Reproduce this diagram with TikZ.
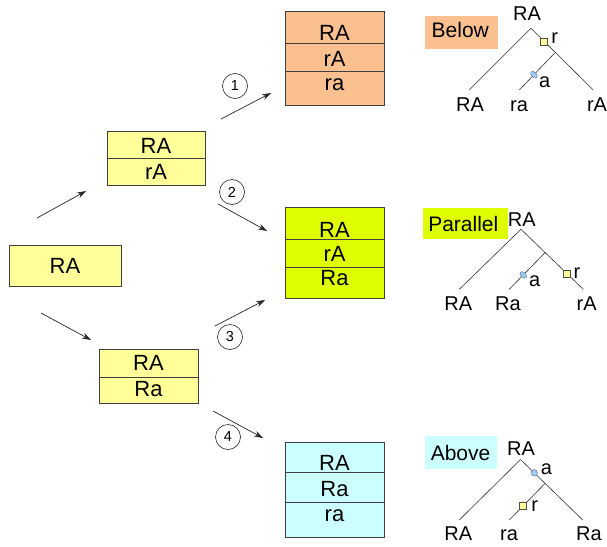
\documentclass[tikz,border=0pt]{standalone}
\usepackage{fontspec}
\setmainfont{Liberation Sans}
\usetikzlibrary{arrows.meta,calc,shapes.geometric}

\definecolor{paleyellow}{HTML}{FFFF99}
\definecolor{peach}{HTML}{FAC090}
\definecolor{lime}{HTML}{DFFF00}
\definecolor{icecyan}{HTML}{CCFFFF}
\definecolor{edgegray}{HTML}{404040}
\definecolor{dotblue}{HTML}{99CCFF}

\tikzset{
  cell/.style={draw=edgegray, line width=0.7pt, inner sep=0pt, text depth=0pt,
               font=\fontsize{22}{24}\selectfont},
  tag/.style={inner ysep=0pt, align=left, text depth=0pt,
              font=\fontsize{21}{24}\selectfont},
  lbl/.style={inner sep=0pt, anchor=base, font=\fontsize{20}{22}\selectfont},
  small/.style={inner sep=0pt, anchor=base, font=\fontsize{20}{22}\selectfont},
  num/.style={draw, circle, minimum size=25pt, inner sep=0pt, line width=0.5pt,
              font=\fontsize{14.5}{16}\selectfont},
  flow/.style={line width=0.7pt, draw=black!85,
               -{Stealth[length=9pt,width=6pt]}},
  branch/.style={line width=0.6pt, draw=black!80},
  sq/.style={draw=black!70, fill=paleyellow, minimum size=7pt, inner sep=0pt, line width=0.5pt},
  dot/.style={draw=black!60, fill=dotblue, ellipse, minimum width=5pt, minimum height=8pt,
              inner sep=0pt, line width=0.4pt},
  rdot/.style={draw=black!60, fill=dotblue, circle, minimum size=6.5pt, inner sep=0pt, line width=0.4pt},
}

\begin{document}
\begin{tikzpicture}[x=1pt,y=-1pt]
\useasboundingbox (0,0) rectangle (607,546);

% ---- left column: start box and the two intermediate boxes
\node[cell, fill=paleyellow, minimum width=112pt, minimum height=41pt, text height=15.6pt] (start) at (65,265.5) {RA};

\node[cell, fill=paleyellow, minimum width=98pt, minimum height=27pt, text height=17.6pt] (u1) at (156,144.5) {RA};
\node[cell, fill=paleyellow, minimum width=98pt, minimum height=27pt, text height=15pt] (u2) at (156,171.5) {rA};

\node[cell, fill=paleyellow, minimum width=99pt, minimum height=28pt, text height=14pt] (d1) at (148.5,363) {RA};
\node[cell, fill=paleyellow, minimum width=99pt, minimum height=26pt, text height=12pt] (d2) at (148.5,390) {Ra};

% ---- right column: the three result tables
\node[cell, fill=peach, minimum width=99pt, minimum height=32pt, text height=27.4pt] (o1) at (334.5,27) {RA};
\node[cell, fill=peach, minimum width=99pt, minimum height=28pt, text height=18pt] (o2) at (334.5,57) {rA};
\node[cell, fill=peach, minimum width=99pt, minimum height=34pt, text height=5.4pt] (o3) at (334.5,88) {ra};

\node[cell, fill=lime, minimum width=99pt, minimum height=32pt, text height=29.4pt] (g1) at (334.5,223) {RA};
\node[cell, fill=lime, minimum width=99pt, minimum height=28pt, text height=16pt] (g2) at (334.5,253) {rA};
\node[cell, fill=lime, minimum width=99pt, minimum height=31pt, text height=6.4pt] (g3) at (334.5,282.5) {Ra};

\node[cell, fill=icecyan, minimum width=99pt, minimum height=30pt, text height=27.4pt] (c1) at (334.5,457) {RA};
\node[cell, fill=icecyan, minimum width=99pt, minimum height=30pt, text height=19.4pt] (c2) at (334.5,487) {Ra};
\node[cell, fill=icecyan, minimum width=99pt, minimum height=35pt, text height=4.4pt] (c3) at (334.5,519.5) {ra};

% ---- arrows
\coordinate (a1s) at (37,218);  \coordinate (a1e) at (86,191);
\coordinate (a2s) at (41,313);  \coordinate (a2e) at (91,340);
\coordinate (b1s) at (221,119); \coordinate (b1e) at (271,93);
\coordinate (b2s) at (218,204); \coordinate (b2e) at (267,231);
\coordinate (b3s) at (215,326); \coordinate (b3e) at (265,300);
\coordinate (b4s) at (213,411); \coordinate (b4e) at (263,438);
\draw[flow] (a1s) -- (a1e);
\draw[flow] (a2s) -- (a2e);
\draw[flow] (b1s) -- (b1e);
\draw[flow] (b2s) -- (b2e);
\draw[flow] (b3s) -- (b3e);
\draw[flow] (b4s) -- (b4e);

\node[num] (n1) at (235,86) {1};
\node[num] (n2) at (232,192) {2};
\node[num] (n3) at (230,337) {3};
\node[num] (n4) at (228,437) {4};

% ---- tree 1: Below
\node[tag, fill=peach, minimum height=33pt, inner xsep=6.7pt, text width=59.6pt, text height=9.6pt] (below) at (461.5,32.5) {Below};
\node[lbl] (t1root) at (527,20.7) {RA};
\coordinate (t1v) at (531,28.3);
\coordinate (t1l) at (469.3,90);
\coordinate (t1r) at (593.3,90);
\coordinate (t1b) at (555,52.7);
\coordinate (t1m) at (519.3,90);
\draw[branch] (t1v) -- (t1l);
\draw[branch] (t1v) -- node[sq, pos=0.21] (t1sq) {} (t1r);
\draw[branch] (t1b) -- node[dot, pos=0.59, rotate=45] (t1dot) {} (t1m);
\node[small] (t1r-lab) at (554.7,43.3) {r};
\node[small] (t1a-lab) at (544.7,87.3) {a};
\node[lbl] (t1leafl) at (470,111.7) {RA};
\node[lbl] (t1leafm) at (519,111.7) {ra};
\node[lbl] (t1leafr) at (597,111.7) {rA};

% ---- tree 2: Parallel
\node[tag, fill=lime, minimum height=31pt, inner xsep=5.6pt, text width=74.4pt, text height=15.8pt] (parallel) at (465.5,223.8) {Parallel};
\node[lbl] (t2root) at (521.7,226) {RA};
\coordinate (t2v) at (521,229.3);
\coordinate (t2l) at (459.3,289.3);
\coordinate (t2r) at (583.3,289.3);
\coordinate (t2b) at (545,252.6);
\coordinate (t2m) at (509.3,289.3);
\draw[branch] (t2v) -- (t2l);
\draw[branch] (t2v) -- node[sq, pos=0.74] (t2sq) {} (t2r);
\draw[branch] (t2b) -- node[dot, pos=0.61, rotate=45] (t2dot) {} (t2m);
\node[small] (t2r-lab) at (577,278) {r};
\node[small] (t2a-lab) at (534.7,286) {a};
\node[lbl] (t2leafl) at (458.3,310) {RA};
\node[lbl] (t2leafm) at (508,310) {Ra};
\node[lbl] (t2leafr) at (586.7,310) {rA};

% ---- tree 3: Above
\node[tag, fill=icecyan, minimum height=33.3pt, inner xsep=5.7pt, text width=60.9pt, text height=14.6pt] (above) at (461.2,452.7) {Above};
\node[lbl] (t3root) at (521,455) {RA};
\coordinate (t3v) at (520.5,459.5);
\coordinate (t3l) at (459.3,520);
\coordinate (t3r) at (582.7,520);
\coordinate (t3b) at (545,483.5);
\coordinate (t3m) at (509.3,520);
\draw[branch] (t3v) -- (t3l);
\draw[branch] (t3v) -- node[rdot, pos=0.22] (t3dot) {} (t3r);
\draw[branch] (t3b) -- node[sq, pos=0.61] (t3sq) {} (t3m);
\node[small] (t3a-lab) at (546.5,474) {a};
\node[small] (t3r-lab) at (534.7,511.7) {r};
\node[lbl] (t3leafl) at (458.3,540) {RA};
\node[lbl] (t3leafm) at (509,540) {ra};
\node[lbl] (t3leafr) at (589,540) {Ra};
\end{tikzpicture}
\end{document}
